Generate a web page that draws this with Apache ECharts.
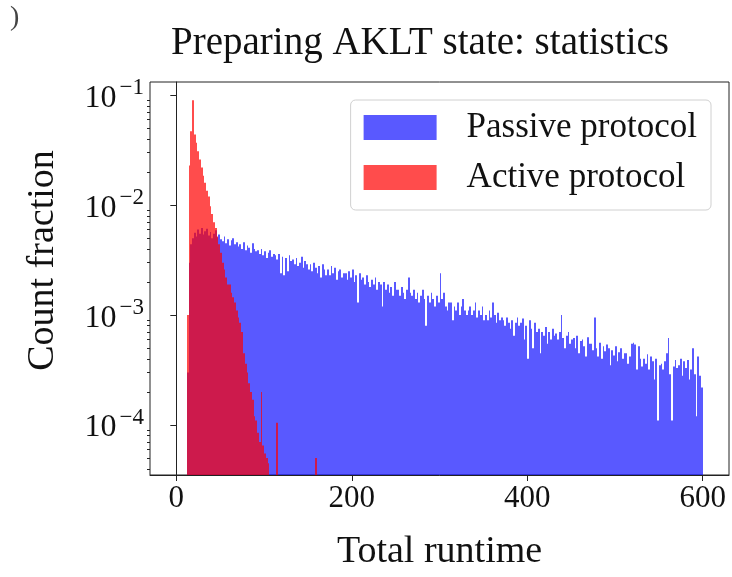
<!DOCTYPE html>
<html>
<head>
<meta charset="utf-8">
<title>Preparing AKLT state: statistics</title>
<script src="https://cdn.jsdelivr.net/npm/echarts@6/dist/echarts.min.js"></script>
<style>
  html, body { margin: 0; padding: 0; background: #fff; }
  #chart { width: 732px; height: 577px; }
</style>
</head>
<body>
<div id="chart"></div>
<script>
// histogram bins: first left edge and width (runtime units)
const firstBin = 12
const binWidth = 2

// Passive protocol, count fraction per bin (bins 12..600)
const passiveCounts = [
  3.0e-4, 3.0e-3, 4.4e-3, 5.0e-3, 5.6e-3, 5.2e-3, 6.0e-3, 5.5e-3, 6.2e-3, 5.4e-3,
  5.8e-3, 6.1e-3, 5.3e-3, 5.7e-3, 5.0e-3, 5.5e-3, 5.9e-3, 5.1e-3, 5.4e-3, 4.9e-3,
  4.7e-3, 5.2e-3, 4.5e-3, 4.9e-3, 4.3e-3, 4.8e-3, 5.0e-3, 4.4e-3, 4.6e-3, 4.2e-3,
  4.4e-3, 4.0e-3, 4.6e-3, 3.9e-3, 4.3e-3, 4.1e-3, 3.7e-3, 4.5e-3, 4.0e-3, 3.8e-3,
  3.9e-3, 3.6e-3, 4.0e-3, 3.5e-3, 3.8e-3, 3.3e-3, 3.7e-3, 3.9e-3, 3.4e-3, 3.6e-3,
  3.5e-3, 3.2e-3, 3.6e-3, 2.4e-3, 3.4e-3, 2.3e-3, 3.3e-3, 2.5e-3, 3.5e-3, 3.1e-3,
  3.2e-3, 2.9e-3, 3.3e-3, 2.8e-3, 3.0e-3, 3.4e-3, 2.7e-3, 3.1e-3, 2.9e-3, 2.6e-3,
  2.9e-3, 2.5e-3, 3.0e-3, 2.7e-3, 2.4e-3, 2.8e-3, 2.2e-3, 2.9e-3, 2.6e-3, 2.3e-3,
  2.6e-3, 2.3e-3, 2.8e-3, 2.4e-3, 2.7e-3, 2.1e-3, 2.5e-3, 2.6e-3, 2.2e-3, 2.4e-3,
  2.4e-3, 2.1e-3, 2.5e-3, 2.2e-3, 2.6e-3, 2.0e-3, 2.3e-3, 1.3e-3, 2.4e-3, 2.1e-3,
  2.2e-3, 1.9e-3, 2.3e-3, 2.0e-3, 1.8e-3, 2.1e-3, 1.9e-3, 2.2e-3, 1.7e-3, 2.0e-3,
  1.9e-3, 1.2e-3, 2.0e-3, 1.7e-3, 1.9e-3, 1.6e-3, 1.8e-3, 1.5e-3, 2.0e-3, 1.7e-3,
  1.7e-3, 1.5e-3, 1.8e-3, 1.6e-3, 1.4e-3, 1.7e-3, 2.2e-3, 1.6e-3, 1.5e-3, 1.7e-3,
  1.4e-3, 1.6e-3, 1.3e-3, 1.5e-3, 1.7e-3, 1.4e-3, 8.0e-4, 1.5e-3, 1.3e-3, 1.6e-3,
  1.4e-3, 1.2e-3, 1.5e-3, 1.3e-3, 2.4e-3, 1.4e-3, 1.6e-3, 1.2e-3, 1.1e-3, 1.3e-3,
  1.3e-3, 9.0e-4, 1.2e-3, 1.1e-3, 1.3e-3, 1.0e-3, 1.2e-3, 1.4e-3, 1.1e-3, 1.0e-3,
  1.1e-3, 1.2e-3, 1.0e-3, 1.1e-3, 1.3e-3, 9.5e-4, 1.1e-3, 1.0e-3, 1.2e-3, 9.0e-4,
  1.0e-3, 9.0e-4, 1.1e-3, 9.5e-4, 1.3e-3, 1.0e-3, 8.5e-4, 1.05e-3, 9.0e-4, 9.5e-4,
  9.0e-4, 8.0e-4, 9.5e-4, 8.5e-4, 7.5e-4, 9.0e-4, 6.5e-4, 8.5e-4, 9.5e-4, 8.0e-4,
  8.5e-4, 9.3e-4, 6.0e-4, 8.0e-4, 4.0e-4, 9.0e-4, 7.5e-4, 5.0e-4, 8.5e-4, 7.0e-4,
  7.5e-4, 4.5e-4, 7.0e-4, 6.5e-4, 7.8e-4, 5.5e-4, 7.0e-4, 6.0e-4, 7.5e-4, 6.5e-4,
  6.8e-4, 6.0e-4, 7.0e-4, 1.0e-3, 6.2e-4, 5.0e-4, 6.5e-4, 7.0e-4, 5.5e-4, 6.0e-4,
  6.2e-4, 5.0e-4, 6.5e-4, 4.5e-4, 5.8e-4, 6.0e-4, 5.2e-4, 4.2e-4, 6.3e-4, 5.5e-4,
  5.5e-4, 4.8e-4, 9.5e-4, 5.0e-4, 4.2e-4, 5.6e-4, 4.0e-4, 5.2e-4, 4.7e-4, 5.4e-4,
  5.0e-4, 3.5e-4, 4.8e-4, 4.3e-4, 5.2e-4, 3.8e-4, 4.6e-4, 5.0e-4, 4.0e-4, 4.5e-4,
  4.5e-4, 3.6e-4, 4.2e-4, 5.5e-4, 5.6e-4, 5.4e-4, 3.2e-4, 5.2e-4, 4.0e-4, 3.4e-4,
  4.0e-4, 3.6e-4, 4.4e-4, 3.2e-4, 4.2e-4, 3.8e-4, 2.6e-4, 4.0e-4, 1.1e-4, 3.5e-4,
  3.6e-4, 3.2e-4, 3.8e-4, 4.5e-4, 6.2e-4, 2.9e-4, 1.1e-4, 3.4e-4, 3.9e-4, 3.3e-4,
  3.5e-4, 4.0e-4, 2.8e-4, 3.8e-4, 3.3e-4, 3.9e-4, 2.6e-4, 3.2e-4, 5.0e-4, 2.9e-4,
  1.2e-4, 4.2e-4, 2.8e-4, 2.2e-4
]

// Active protocol, count fraction per bin (bins 12..160), 0 = empty bin
const activeCounts = [
  1.0e-3, 2.3e-2, 4.7e-2, 9.0e-2, 4.4e-2, 3.7e-2, 3.1e-2, 2.6e-2, 2.2e-2, 1.85e-2,
  1.6e-2, 1.35e-2, 1.2e-2, 9.8e-3, 8.3e-3, 7.0e-3, 6.2e-3, 5.2e-3, 4.4e-3, 3.7e-3,
  3.0e-3, 2.6e-3, 2.2e-3, 1.9e-3, 1.9e-3, 1.6e-3, 1.45e-3, 1.3e-3, 1.1e-3, 9.5e-4,
  8.5e-4, 7.0e-4, 4.5e-4, 3.6e-4, 3.0e-4, 2.4e-4, 2.0e-4, 1.7e-4, 1.2e-4, 1.1e-4,
  8.5e-5, 7.0e-5, 2.0e-4, 6.5e-5, 5.5e-5, 5.0e-5, 4.5e-5, 0, 0, 0,
  0, 1.05e-4, 0, 0, 0, 0, 0, 0, 0, 0,
  0, 0, 0, 0, 0, 0, 0, 0, 0, 0,
  0, 0, 0, 5.0e-5
]

const seriesNames = ['Passive protocol', 'Active protocol']
const xTicks = [0, 200, 400, 600]
const yTicks = [1e-4, 1e-3, 1e-2, 1e-1]

// axis ranges
const xMin = -30
const xMax = 630
const yMin = 3.51e-5
const yMax = 0.132

const serif = "'Liberation Serif', 'DejaVu Serif', serif"

// minor ticks of the log axis: 2..9 x 10^n inside the range
const yMinorTicks = []
for (let e = -5; e <= -1; e++) {
  for (let m = 2; m <= 9; m++) {
    const v = m * Math.pow(10, e)
    if (v > yMin && v < yMax) yMinorTicks.push(v)
  }
}

// [left edge, right edge, value]
function toBins(counts) {
  return counts.map((v, i) => [firstBin + i * binWidth, firstBin + (i + 1) * binWidth, v])
}

function renderBin(params, api) {
  const v = api.value(2)
  if (!(v > 0)) return null
  const top = api.coord([api.value(0), v])
  const bottom = api.coord([api.value(1), yMin])
  // snap the side edges to whole pixels so neighbouring bins leave no seam
  const x0 = Math.round(top[0])
  const x1 = Math.round(bottom[0])
  return {
    type: 'rect',
    shape: { x: x0, y: top[1], width: x1 - x0, height: bottom[1] - top[1] },
    style: api.style()
  }
}

const chart = echarts.init(document.getElementById('chart'), null, { renderer: 'canvas' })

chart.setOption({
  animation: false,
  backgroundColor: '#fff',

  title: {
    text: 'Preparing AKLT state: statistics',
    left: 415,
    textAlign: 'center',
    top: 19,
    textStyle: { fontFamily: serif, fontSize: 39, fontWeight: 'normal', color: '#111' }
  },

  // the cut off panel mark in the corner
  graphic: [{
    type: 'text',
    left: 10,
    top: 4,
    style: { text: ')', font: '28px ' + serif, fill: '#444' }
  }],

  legend: {
    data: seriesNames,
    orient: 'vertical',
    right: 21,
    top: 100,
    icon: 'rect',
    itemWidth: 73,
    itemHeight: 25,
    itemGap: 15,
    padding: [10, 14, 15, 13],
    borderColor: '#d0d0d0',
    borderWidth: 1,
    borderRadius: 5,
    backgroundColor: 'rgba(255,255,255,0.8)',
    textStyle: {
      fontFamily: serif,
      fontSize: 35,
      color: '#111',
      padding: [0, 0, 0, 25]
    }
  },

  grid: {
    left: 150,
    right: 3,
    top: 82,
    bottom: 102,
    show: true,
    borderColor: '#222',
    borderWidth: 1,
    backgroundColor: 'transparent'
  },

  xAxis: {
    type: 'value',
    min: xMin,
    max: xMax,
    name: 'Total runtime',
    nameLocation: 'middle',
    nameGap: 58,
    nameTextStyle: { fontFamily: serif, fontSize: 38, color: '#111' },
    axisLine: { show: true, onZero: false, lineStyle: { color: '#222', width: 1 } },
    axisTick: { show: true, length: 6, customValues: xTicks, lineStyle: { color: '#222' } },
    axisLabel: { customValues: xTicks, margin: 8, fontFamily: serif, fontSize: 31, color: '#111' },
    splitLine: { show: false }
  },

  yAxis: [
    {
      type: 'log',
      logBase: 10,
      min: yMin,
      max: yMax,
      name: 'Count fraction',
      nameLocation: 'middle',
      nameGap: 88,
      nameTextStyle: { fontFamily: serif, fontSize: 38, color: '#111', padding: [0, 0, 0, 36] },
      axisLine: { show: true, lineStyle: { color: '#222', width: 1 } },
      axisTick: { show: true, length: 6, customValues: yTicks, lineStyle: { color: '#222' } },
      axisLabel: {
        customValues: yTicks,
        margin: 6,
        formatter: function (v) {
          const e = Math.round(Math.log10(v))
          return '{b|10}{s|\u2212' + (-e) + '}'
        },
        rich: {
          b: { fontFamily: serif, fontSize: 32, lineHeight: 38, verticalAlign: 'bottom', color: '#111' },
          s: { fontFamily: serif, fontSize: 23, lineHeight: 38, verticalAlign: 'top', color: '#111', padding: [0, 0, 0, 3] }
        }
      },
      splitLine: { show: false }
    },
    {
      // only carries the minor ticks
      type: 'log',
      logBase: 10,
      min: yMin,
      max: yMax,
      position: 'left',
      axisLine: { show: false },
      axisTick: { show: true, length: 3, customValues: yMinorTicks, lineStyle: { color: '#222' } },
      axisLabel: { show: false },
      splitLine: { show: false }
    }
  ],

  series: [
    {
      name: seriesNames[0],
      type: 'custom',
      renderItem: renderBin,
      clip: true,
      yAxisIndex: 0,
      itemStyle: { color: 'rgba(0,0,255,0.65)' },
      encode: { x: [0, 1], y: 2 },
      data: toBins(passiveCounts)
    },
    {
      name: seriesNames[1],
      type: 'custom',
      renderItem: renderBin,
      clip: true,
      yAxisIndex: 0,
      itemStyle: { color: 'rgba(255,0,0,0.7)' },
      encode: { x: [0, 1], y: 2 },
      data: toBins(activeCounts)
    }
  ]
})
</script>
</body>
</html>
